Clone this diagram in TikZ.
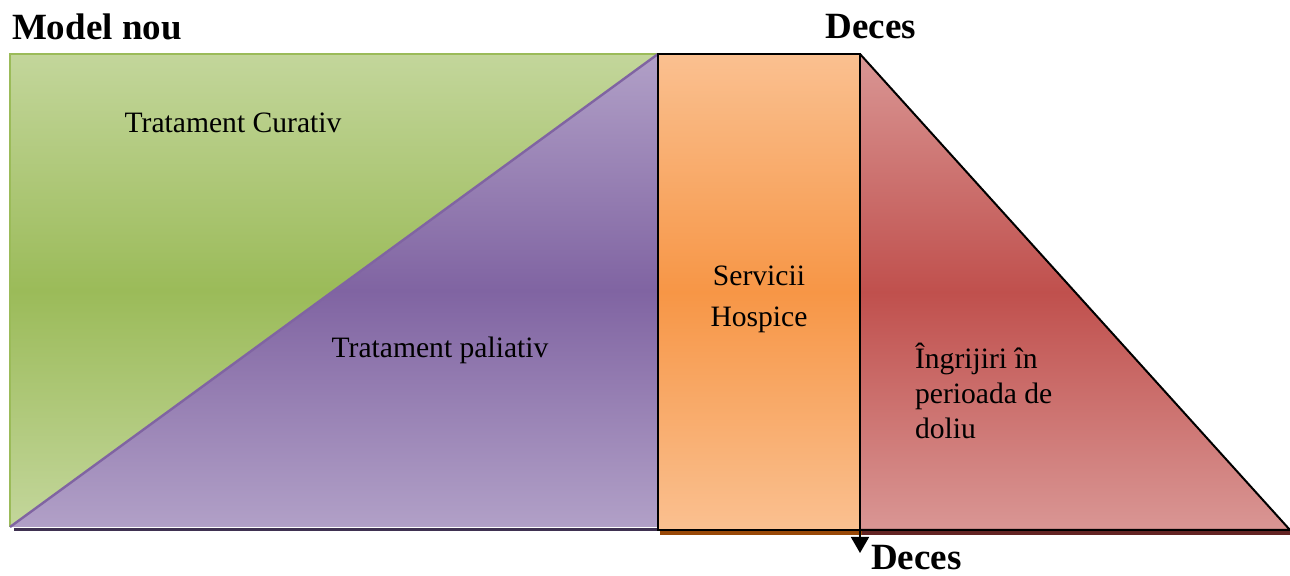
\documentclass[tikz,border=0pt]{standalone}
\usepackage{fontspec}
\setmainfont{Liberation Serif}
\usetikzlibrary{arrows.meta}

\definecolor{grlight}{HTML}{C3D69B}
\definecolor{grmid}{HTML}{9BBB59}
\definecolor{pulight}{HTML}{B1A0C7}
\definecolor{pumid}{HTML}{8064A2}
\definecolor{pudark}{HTML}{3F3151}
\definecolor{orlight}{HTML}{FAC090}
\definecolor{ormid}{HTML}{F79646}
\definecolor{ordark}{HTML}{984807}
\definecolor{relight}{HTML}{D99694}
\definecolor{remid}{HTML}{C0504D}
\definecolor{redark}{HTML}{632423}

\begin{document}
\begin{tikzpicture}[x=0.5pt,y=-0.5pt,
   lbl/.style={font=\fontsize{14.8}{20.5}\selectfont, align=center},
   ttl/.style={font=\fontsize{18.5}{22}\selectfont\bfseries}]
   \useasboundingbox (0,0) rectangle (1290,576);
   % tratament curativ
   \shade[top color=grlight,bottom color=grlight,middle color=grmid] (10,54) rectangle (658,527);
   \draw[grmid,line width=0.8pt] (10,527) -- (10,54) -- (658,54);
   % tratament paliativ
   \draw[pudark,line width=1.5pt] (14,530) -- (658,530);
   \shade[top color=pulight,bottom color=pulight,middle color=pumid] (10,527) -- (658,54) -- (658,527) -- cycle;
   \draw[pumid,line width=1.2pt] (10,527) -- (658,54);
   % servicii hospice
   \draw[ordark,line width=2pt] (660,533) -- (862,533);
   \shade[top color=orlight,bottom color=orlight,middle color=ormid] (658,54) rectangle (860,530);
   % doliu
   \draw[redark,line width=2pt] (862,533) -- (1290,533);
   \shade[top color=relight,bottom color=relight,middle color=remid] (860,54) -- (1290,530) -- (860,530) -- cycle;
   \draw[line width=1pt] (860,54) -- (1290,530) -- (860,530);
   \draw[line width=1pt] (658,54) rectangle (860,530);
   % deces
   \coordinate (deces) at (860,530);
   \coordinate (sageata) at (860,553);
   \draw[-{Triangle[length=8pt,width=9pt]},line width=0.8pt] (deces) -- (sageata);
   \node[ttl,anchor=west] (model) at (5,27) {Model nou};
   \node[ttl] (decesSus) at (871,27) {Deces};
   \node[ttl,anchor=west] (decesJos) at (864,558) {Deces};
   \node[lbl] (curativ) at (233,123) {Tratament Curativ};
   \node[lbl] (paliativ) at (440,350) {Tratament paliativ};
   \node[lbl] (hospice) at (759,299) {Servicii\\Hospice};
   \node[lbl,align=left,anchor=north west,font=\fontsize{14.8}{17.5}\selectfont] (doliu) at (908,336) {Îngrijiri în\\perioada de\\doliu};
\end{tikzpicture}
\end{document}
